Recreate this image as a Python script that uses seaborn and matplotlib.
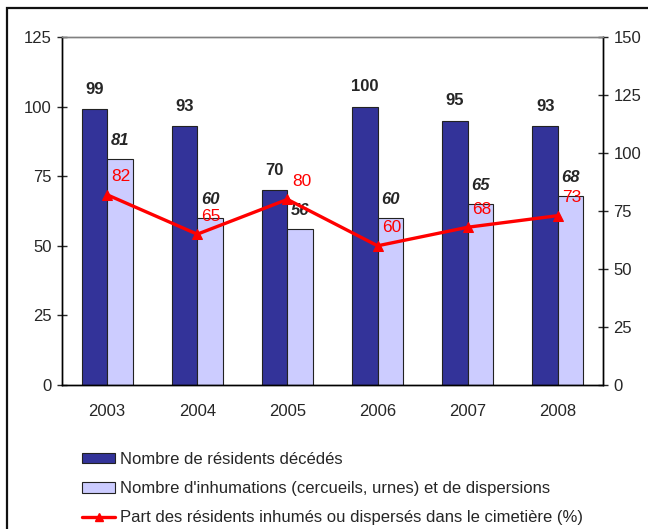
import numpy as np
import pandas as pd
import matplotlib
matplotlib.use("Agg")
import matplotlib.pyplot as plt
from matplotlib.patches import Rectangle, Patch
from matplotlib.lines import Line2D
import seaborn as sns

# data
annees = ["2003", "2004", "2005", "2006", "2007", "2008"]
deces = [99, 93, 70, 100, 95, 93]
inhumations = [81, 60, 56, 60, 65, 68]
part_pct = [82, 65, 80, 60, 68, 73]

lbl_deces = "Nombre de résidents décédés"
lbl_inhum = "Nombre d'inhumations (cercueils, urnes) et de dispersions"
lbl_part = "Part des résidents inhumés ou dispersés dans le cimetière (%)"

sns.set_style("white")
plt.rcParams["font.family"] = ["Liberation Sans", "DejaVu Sans"]

df = pd.DataFrame({
    "annee": annees * 2,
    "valeur": deces + inhumations,
    "serie": [lbl_deces] * len(annees) + [lbl_inhum] * len(annees),
})

fig = plt.figure(figsize=(6.48, 5.29), dpi=100)
ax = fig.add_axes([62 / 648, 1 - 385 / 529, (603 - 62) / 648, (385 - 37) / 529])

sns.barplot(data=df, x="annee", y="valeur", hue="serie", order=annees,
            palette=["#333399", "#CCCCFF"], width=0.566, gap=0,
            edgecolor="#222222", linewidth=0.8, saturation=1, ax=ax, legend=False)

ax.set_xlim(-0.5, len(annees) - 0.5)
ax.set_ylim(0, 125)
ax.set_yticks(np.arange(0, 126, 25))
ax.set_xlabel("")
ax.set_ylabel("")

# value labels on bars
ax.bar_label(ax.containers[0], padding=9, fontsize=12, fontweight="bold")
ax.bar_label(ax.containers[1], padding=8, fontsize=12, fontweight="bold",
             fontstyle="italic")

# secondary axis with percentage line
ax2 = ax.twinx()
x_pos = np.arange(len(annees))
sns.lineplot(x=x_pos, y=part_pct, ax=ax2, color="#FF0000", linewidth=2.4,
             marker="^", markersize=7, markeredgecolor="#FF0000")
ax2.set_ylim(0, 150)
ax2.set_yticks(np.arange(0, 151, 25))
for xi, v in zip(x_pos, part_pct):
    ax2.annotate(str(v), (xi, v), xytext=(14, 18), textcoords="offset pixels",
                 ha="center", va="center", color="#FF0000", fontsize=12.5)

# axis styling
for a in (ax, ax2):
    for s in ("left", "right", "bottom"):
        a.spines[s].set_color("black")
        a.spines[s].set_linewidth(1.0)
    a.spines["top"].set_color("#808080")
    a.spines["top"].set_linewidth(1.0)
ax.tick_params(axis="y", direction="inout", length=7, width=1, labelsize=12, pad=4)
ax2.tick_params(axis="y", direction="inout", length=7, width=1, labelsize=12, pad=4)
ax.set_xticks(x_pos)
ax.set_xticklabels(annees)
ax.tick_params(axis="x", length=0, labelsize=12, pad=14)
ax.set_xticks(np.arange(-0.5, len(annees), 1), minor=True)
ax.tick_params(axis="x", which="minor", direction="out", length=5, width=1)

# legend below the chart
handles = [
    Patch(facecolor="#333399", edgecolor="#222222", linewidth=0.8),
    Patch(facecolor="#CCCCFF", edgecolor="#222222", linewidth=0.8),
    Line2D([0], [0], color="#FF0000", linewidth=2.4, marker="^", markersize=6),
]
fig.legend(handles, [lbl_deces, lbl_inhum, lbl_part], loc="upper left",
           bbox_to_anchor=(67 / 648, 1 - 437 / 529), frameon=False, fontsize=12,
           handlelength=2.0, handleheight=0.6, handletextpad=0.3, labelspacing=0.85)

# outer chart border (cut off at right and bottom)
fig.patches.append(Rectangle((7 / 648, -0.1), 1.2, 1.1 - 8 / 529, transform=fig.transFigure,
                             fill=False, edgecolor="#111111", linewidth=1.6, clip_on=False))

fig.savefig("out.png", dpi=100)
